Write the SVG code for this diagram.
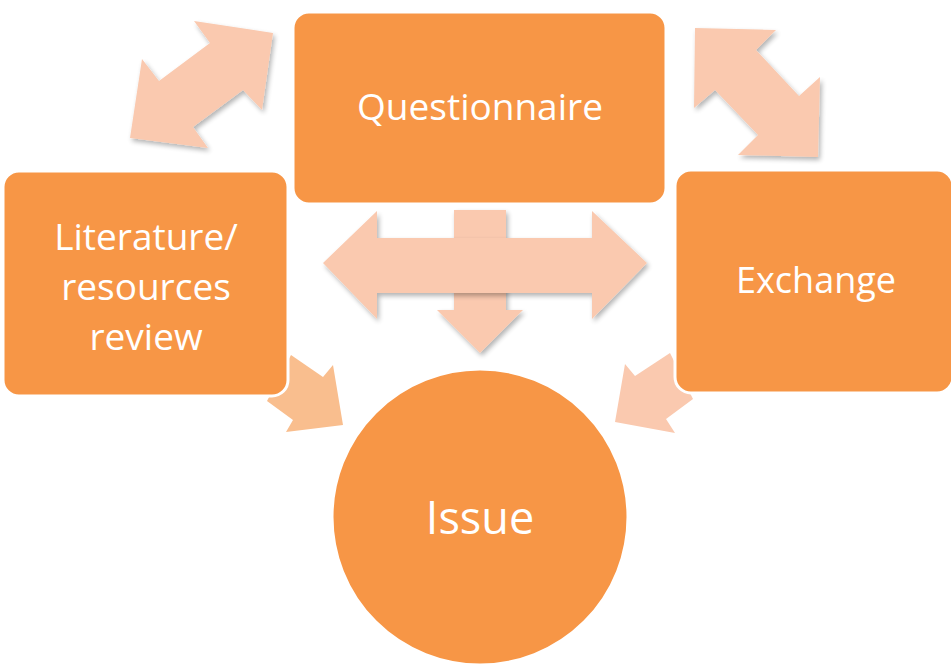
<svg xmlns="http://www.w3.org/2000/svg" width="951" height="665" viewBox="0 0 951 665">
<defs>
<filter id="sh" x="-20%" y="-20%" width="140%" height="140%">
<feGaussianBlur in="SourceAlpha" stdDeviation="2.5"/>
<feOffset dx="2" dy="3" result="b"/>
<feComponentTransfer><feFuncA type="linear" slope="0.3"/></feComponentTransfer>
<feMerge><feMergeNode/><feMergeNode in="SourceGraphic"/></feMerge>
</filter>
</defs>
<style>
.arr{fill:#FAC9AF;filter:url(#sh)}
.arr2{fill:#F9BE8E}
.box{fill:#F79646;stroke:#ffffff;stroke-width:3}
.t{fill:#ffffff;font-family:"Open Sans","Noto Sans",sans-serif;text-anchor:middle}
</style>
<rect width="951" height="665" fill="#ffffff"/>
<g id="connectors">
<polygon class="arr" points="194,21 273,33 262,110 243,90 193,127 208,148 130,138 142,59 159,81 210,43"/>
<polygon class="arr" points="695,28 776,30 756,50 799,96 820,77 818,157 738,155 758,135 715,90 694,108"/>
<polygon class="arr" points="454,210 506,210 506,310 523,310 480,353 437,310 454,310"/>
<polygon class="arr" points="323,263 377,211 377,238 592,238 592,211 647,263 592,319 592,293 377,293 377,319"/>
<polygon class="arr2" points="291,355 323,377 333,365 343,425 286,432 293,420 267,401"/>
<polygon class="arr" style="filter:none" points="670,353 635,376 625,364 615,422 675,433 666,419 693,399"/>
</g>
<g id="questionnaire">
<rect class="box" x="293" y="12" width="373" height="192" rx="16"/>
<text class="t" x="480" y="120" font-size="37">Questionnaire</text>
</g>
<g id="literature">
<rect class="box" x="3" y="171" width="285" height="225" rx="16"/>
<text class="t" font-size="37"><tspan x="146" y="250">Literature/</tspan><tspan x="146" y="300">resources</tspan><tspan x="146" y="350">review</tspan></text>
</g>
<g id="exchange">
<rect class="box" x="675" y="170" width="278" height="223" rx="16"/>
<text class="t" x="816" y="293" font-size="36">Exchange</text>
</g>
<g id="issue">
<circle class="box" cx="480" cy="517" r="148"/>
<text class="t" x="480" y="534" font-size="45">Issue</text>
</g>
</svg>
